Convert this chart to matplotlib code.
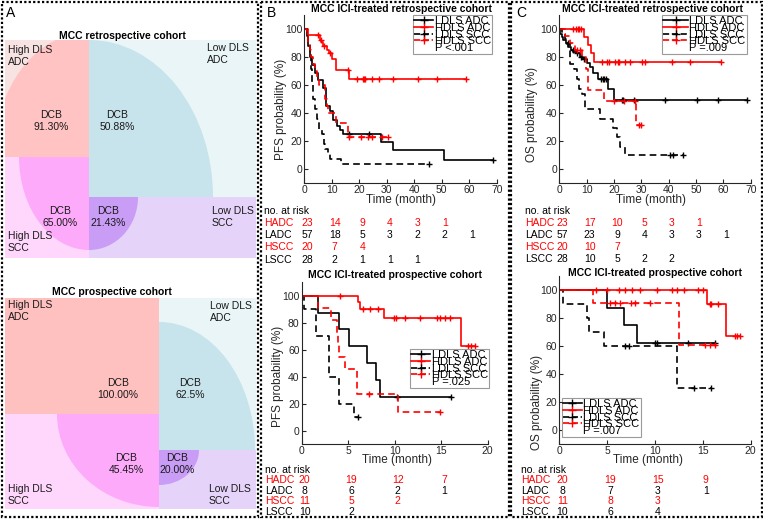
import numpy as np
import matplotlib.pyplot as plt
from matplotlib.patches import Rectangle, Ellipse
from matplotlib.lines import Line2D
from matplotlib import transforms

plt.rcParams['font.family'] = ['Liberation Sans', 'DejaVu Sans']

W, H = 763, 519
RED = '#ff0000'
BLK = '#000000'
GRAY = '#262626'

# ---------------- panel A data ----------------
quad_names = ['High DLS\nADC', 'Low DLS\nADC', 'High DLS\nSCC', 'Low DLS\nSCC']
dcb_retro = ['91.30%', '50.88%', '65.00%', '21.43%']
dcb_prosp = ['100.00%', '62.5%', '45.45%', '20.00%']

# ---------------- KM data (time in months, survival in %) ----------------
curve_names = ['LDLS ADC', 'HDLS ADC', 'LDLS SCC', 'HDLS SCC']

# B top: PFS, retrospective
pfs_r_ladc_t = [0.9, 1.5, 2.1, 2.7, 3.9, 5.1, 6.9, 7.9, 9.3, 10.5, 11.8, 13.0, 14.2, 27.9, 32.1, 50.8]
pfs_r_ladc_s = [95, 87.6, 80, 74.5, 68.5, 63.7, 57.5, 44.6, 41, 35, 30.3, 27.4, 25.1, 18.9, 13.1, 6.4]
pfs_r_ladc_c = [16.4, 23.6, 68.7]
pfs_r_hadc_t = [1.5, 5.6, 6.2, 6.8, 8.2, 8.9, 9.9, 11.5, 16.4]
pfs_r_hadc_s = [95.7, 92.5, 90.5, 88.0, 85.0, 82.6, 78.3, 71.0, 64.4]
pfs_r_hadc_c = [5.0, 6.0, 7.0, 9.3, 16.0, 19.3, 21.2, 21.7, 22.2, 24.8, 27.2, 32.1, 41.5, 48.4, 59.0]
pfs_r_lscc_t = [1.0, 1.5, 2.0, 2.4, 2.8, 3.2, 3.8, 4.5, 5.5, 6.5, 7.0, 7.5, 8.5, 9.5, 13.5]
pfs_r_lscc_s = [96.4, 89.3, 82.1, 71.4, 60.7, 50.0, 42.9, 35.7, 28.6, 25.0, 17.9, 14.3, 10.7, 7.1, 3.6]
pfs_r_lscc_c = [45.3]
pfs_r_hscc_t = [1.0, 1.5, 2.0, 2.5, 3.0, 3.8, 4.5, 5.5, 7.7, 8.2, 8.8, 11.5, 16.0]
pfs_r_hscc_s = [95, 90, 85, 80, 75, 70, 65, 60, 50, 45, 40, 33, 23]
pfs_r_hscc_c = [16.4, 20.8, 23.3, 24.5, 28.1, 30.5]

# B bottom: PFS, prospective
pfs_p_ladc_t = [1.8, 4.0, 5.05, 7.06, 7.96, 8.4]
pfs_p_ladc_s = [87.5, 75, 62.5, 50, 37.5, 25]
pfs_p_ladc_c = [10.25, 16.0]
pfs_p_hadc_t = [6.0, 6.3, 8.9, 17.1]
pfs_p_hadc_s = [95, 90, 83.5, 63.0]
pfs_p_hadc_c = [4.1, 6.6, 7.3, 8.2, 9.9, 10.1, 11.1, 12.7, 14.5, 14.9, 15.4, 15.9, 17.9, 18.2, 18.6]
pfs_p_lscc_t = [0.3, 1.5, 2.9, 4.05, 5.6]
pfs_p_lscc_s = [90, 70, 40, 20, 10]
pfs_p_lscc_c = [6.0]
pfs_p_hscc_t = [1.8, 3.1, 3.8, 3.9, 4.0, 4.7, 5.9, 10.4]
pfs_p_hscc_s = [90.9, 81.8, 72.7, 63.6, 54.5, 45.5, 27.3, 13.6]
pfs_p_hscc_c = [7.2, 14.9]

# C top: OS, retrospective
os_r_ladc_t = [0.25, 0.85, 1.5, 2.3, 3.3, 4.3, 5.1, 6.3, 7.6, 8.8, 10.0, 11.2, 12.4, 14.3, 17.9, 20.1]
os_r_ladc_s = [97, 94.8, 92.4, 90, 87.6, 85.2, 84, 82.9, 80.5, 78.6, 76.2, 73.3, 68.6, 64.3, 57.1, 49.5]
os_r_ladc_c = [3.0, 5.0, 6.5, 8.0, 9.0, 15.3, 15.9, 16.5, 17.1, 22.8, 23.4, 27.3, 38.7, 50.2, 58.2, 68.5]
os_r_hadc_t = [9.1, 10.6, 11.6, 12.8]
os_r_hadc_s = [94.4, 88.9, 83.3, 76.9]
os_r_hadc_c = [5.1, 6.0, 6.8, 7.3, 8.0, 15.5, 17.3, 18.3, 20.4, 21.3, 21.8, 24.0, 25.9,
               30.4, 31.3, 41.1, 47.8, 59.0]
os_r_lscc_t = [1.0, 2.0, 2.7, 3.9, 5.3, 6.3, 7.3, 8.3, 9.5, 14.9, 19.8, 21.0, 22.2, 24.0]
os_r_lscc_s = [96.4, 92.9, 89.3, 75.0, 71.4, 64.3, 57.1, 53.6, 42.9, 36.2, 29.3, 23.3, 16.2, 10.2]
os_r_lscc_c = [40.5, 41.7, 45.4]
os_r_hscc_t = [2.1, 3.9, 5.7, 8.2, 9.8, 10.5, 16.2, 28.0]
os_r_hscc_s = [95, 90, 85, 80, 72, 56.7, 49.0, 31.7]
os_r_hscc_c = [6.5, 7.5, 20.1, 23.8, 27.7, 29.0, 29.9]

# C bottom: OS, prospective
os_p_ladc_t = [5.0, 6.8, 8.1]
os_p_ladc_s = [87.5, 75, 62.5]
os_p_ladc_c = [10.0, 10.2, 13.4, 16.3]
os_p_hadc_t = [15.4, 17.4]
os_p_hadc_s = [90, 66.9]
os_p_hadc_c = [3.8, 5.0, 6.2, 6.9, 7.6, 8.4, 10.2, 11.8, 12.3, 13.0, 14.5, 15.0, 15.7, 15.9, 16.6,
               18.4, 18.6, 18.9]
os_p_lscc_t = [0.4, 2.9, 3.1, 4.7, 12.3]
os_p_lscc_s = [90, 80, 70, 60, 30]
os_p_lscc_c = [6.9, 7.3, 14.1, 15.9]
os_p_hscc_t = [3.55, 12.5]
os_p_hscc_s = [90.9, 60.6]
os_p_hscc_c = [5.3, 5.8, 6.3, 7.5, 7.9, 9.5, 15.2, 15.7, 16.3]

# numbers at risk
risk_rows = ['HADC', 'LADC', 'HSCC', 'LSCC']
risk_cols = [RED, BLK, RED, BLK]
pfs_r_risk = [[23, 14, 9, 4, 3, 1], [57, 18, 5, 3, 2, 2, 1], [20, 7, 4], [28, 2, 1, 1, 1]]
pfs_p_risk = [[20, 19, 12, 7], [8, 6, 2, 1], [11, 5, 2], [10, 2]]
os_r_risk = [[23, 17, 10, 5, 3, 1], [57, 23, 9, 4, 3, 3, 1], [20, 10, 7], [28, 10, 5, 2, 2]]
os_p_risk = [[20, 19, 15, 9], [8, 7, 3, 1], [11, 8, 3], [10, 6, 4]]

# ---------------- figure ----------------
fig = plt.figure(figsize=(W / 100, H / 100), dpi=100)
bg = fig.add_axes([0, 0, 1, 1])
bg.set_xlim(0, W)
bg.set_ylim(H, 0)
bg.axis('off')


def quadrant(rect, center, radii, bg_col, fg_col):
    x0, y0, x1, y1 = rect
    r = Rectangle((x0, y0), x1 - x0, y1 - y0, facecolor=bg_col, edgecolor='none')
    bg.add_patch(r)
    if radii is not None:
        e = Ellipse(center, 2 * radii[0], 2 * radii[1], facecolor=fg_col, edgecolor='none')
        bg.add_patch(e)
        e.set_clip_path(r)


txt = dict(fontsize=7.5, color='#1a1a1a', linespacing=1.15)

# retrospective quadrants
quadrant((5, 40, 89, 157), (89, 157), (95, 125), '#f7e3e1', '#ffc3c3')
quadrant((89, 40, 256, 197), (89, 197), (124, 157), '#eaf5f8', '#c7e3eb')
quadrant((5, 157, 89, 258), (89, 157), (70, 93), '#ffd7fc', '#fdaafb')
quadrant((89, 197, 256, 258), (89, 197), (49, 53), '#e5d3f9', '#c99cf5')
bg.text(122, 36, 'MCC retrospective cohort', fontsize=7.5, fontweight='bold', ha='center', va='center')
for name, (x, y) in zip(quad_names, [(8, 56), (207, 54), (8, 242), (212, 217)]):
    bg.text(x, y, name, ha='left', va='center', **txt)
for val, (x, y) in zip(dcb_retro, [(51, 121), (117, 121), (60, 217), (108, 217)]):
    bg.text(x, y, 'DCB\n' + val, ha='center', va='center', **txt)

# prospective quadrants
quadrant((5, 298, 159, 414), None, None, '#ffc0c0', None)
quadrant((159, 298, 256, 450), (159, 450), (96, 128), '#eaf5f8', '#c7e3eb')
quadrant((5, 414, 159, 509), (159, 414), (102, 93), '#ffd7fc', '#fdaafb')
quadrant((159, 450, 256, 509), (159, 450), (40, 35), '#e5d3f9', '#c99cf5')
bg.text(112, 292, 'MCC prospective cohort', fontsize=7.5, fontweight='bold', ha='center', va='center')
for name, (x, y) in zip(quad_names, [(8, 311), (210, 312), (8, 495), (209, 495)]):
    bg.text(x, y, name, ha='left', va='center', **txt)
for val, (x, y) in zip(dcb_prosp, [(118, 389), (190, 389), (126, 464), (177, 464)]):
    bg.text(x, y, 'DCB\n' + val, ha='center', va='center', **txt)

# dotted panel borders
for x0, x1 in [(2, 257.5), (260.5, 508.5), (511, 761.5)]:
    bg.add_patch(Rectangle((x0, 2), x1 - x0, 515, fill=False, ls=(0, (1, 1)), lw=1.6,
                           ec='k', zorder=10))
for letter, x, y in [('A', 11, 13), ('B', 271, 13), ('C', 521, 13)]:
    bg.text(x, y, letter, fontsize=10, ha='center', va='center')


def km_axes(x0, x1, ytop, ybot, xmax, xstep):
    ax = fig.add_axes([x0 / W, 1 - ybot / H, (x1 - x0) / W, (ybot - ytop) / H])
    ax.patch.set_alpha(0)
    ax.set_xlim(0, xmax)
    ax.set_ylim(-10, 110)
    ax.set_xticks(np.arange(0, xmax + 1, xstep))
    ax.set_yticks(np.arange(0, 101, 20))
    for sp in ['top', 'right']:
        ax.spines[sp].set_visible(False)
    for sp in ['left', 'bottom']:
        ax.spines[sp].set_color(GRAY)
        ax.spines[sp].set_linewidth(0.8)
    ax.tick_params(direction='in', length=3, width=0.8, colors=GRAY, labelsize=7.5, pad=1.5)
    return ax


def km_curve(ax, t, s, cens, color, ls):
    t_end = max(cens[-1], t[-1])
    x = np.r_[0, t, t_end]
    y = np.r_[100, s, s[-1]]
    ax.step(x, y, where='post', color=color, ls=ls, lw=1.2, dashes=(4, 2.5) if ls == '--' else (None, None))
    vals = np.r_[100, s]
    yc = vals[np.searchsorted(t, cens, side='right')]
    ax.plot(cens, yc, ls='none', marker='+', color=color, ms=5, mew=1.0)


def km_panel(ax, curves):
    for (t, s, c), col, ls in zip(curves, [BLK, RED, BLK, RED], ['-', '-', '--', '--']):
        km_curve(ax, t, s, c, col, ls)


def add_legend(ax, pval, corner, hl):
    handles = [Line2D([], [], color=col, ls=ls, lw=1.2, marker='+', ms=6, mew=1.0)
               for col, ls in zip([BLK, RED, BLK, RED], ['-', '-', '--', '--'])]
    handles.append(Line2D([], [], ls='none'))
    leg = ax.legend(handles, curve_names + [pval], loc='upper left',
                    bbox_to_anchor=(corner[0] / W, 1 - corner[1] / H), bbox_transform=fig.transFigure,
                    fontsize=8, labelspacing=-0.3, handlelength=hl, handletextpad=0.15,
                    borderpad=0.12, borderaxespad=0, fancybox=False, edgecolor='#9a9a9a',
                    framealpha=1, numpoints=1)
    leg.get_frame().set_linewidth(0.8)


def labels(ax, ylabel, title, tpos, ycoord, xcoord):
    ax.set_ylabel(ylabel, fontsize=8.5, color=GRAY)
    ax.yaxis.label.set_verticalalignment('center')
    ax.yaxis.set_label_coords(*ycoord)
    ax.set_xlabel('Time (month)', fontsize=8.5, color=GRAY)
    ax.xaxis.label.set_verticalalignment('center')
    ax.xaxis.set_label_coords(*xcoord)
    bg.text(tpos[0], tpos[1], title, fontsize=7.5, fontweight='bold', ha='center', va='center')


def risk_table(ax, counts, step, label_x, ys):
    tr = transforms.blended_transform_factory(ax.transData, bg.transData)
    tr = transforms.offset_copy(tr, fig=fig, x=3, y=0, units='dots')
    bg.text(label_x, ys[0], 'no. at risk', fontsize=7.5, ha='left', va='center')
    for name, nums, col, y in zip(risk_rows, counts, risk_cols, ys[1:]):
        bg.text(label_x, y, name, fontsize=7.5, color=col, ha='left', va='center')
        for i, n in enumerate(nums):
            fig.text(i * step, y, str(n), transform=tr, fontsize=7.5, color=col,
                     ha='center', va='center')


# B top
ax1 = km_axes(304.3, 496.7, 15.1, 182.7, 70, 10)
km_panel(ax1, [(pfs_r_ladc_t, pfs_r_ladc_s, pfs_r_ladc_c), (pfs_r_hadc_t, pfs_r_hadc_s, pfs_r_hadc_c),
               (pfs_r_lscc_t, pfs_r_lscc_s, pfs_r_lscc_c), (pfs_r_hscc_t, pfs_r_hscc_s, pfs_r_hscc_c)])
add_legend(ax1, 'P <.001', (413, 15), 1.7)
labels(ax1, 'PFS probability (%)', 'MCC ICI-treated retrospective cohort', (401.5, 8.5),
       (-0.121, 0.44), (0.5, -0.103))
risk_table(ax1, pfs_r_risk, 10, 264, [211.5, 223, 235, 247.5, 260])

# B bottom
ax2 = km_axes(301.7, 487.7, 282.2, 444.2, 20, 5)
km_panel(ax2, [(pfs_p_ladc_t, pfs_p_ladc_s, pfs_p_ladc_c), (pfs_p_hadc_t, pfs_p_hadc_s, pfs_p_hadc_c),
               (pfs_p_lscc_t, pfs_p_lscc_s, pfs_p_lscc_c), (pfs_p_hscc_t, pfs_p_hscc_s, pfs_p_hscc_c)])
add_legend(ax2, 'P =.025', (410, 349), 1.7)
labels(ax2, 'PFS probability (%)', 'MCC ICI-treated prospective cohort', (394.5, 275),
       (-0.127, 0.42), (0.515, -0.098))
risk_table(ax2, pfs_p_risk, 5, 265, [470, 480, 490.5, 501.5, 512])

# C top
ax3 = km_axes(559.3, 750.7, 15.3, 183.3, 70, 10)
km_panel(ax3, [(os_r_ladc_t, os_r_ladc_s, os_r_ladc_c), (os_r_hadc_t, os_r_hadc_s, os_r_hadc_c),
               (os_r_lscc_t, os_r_lscc_s, os_r_lscc_c), (os_r_hscc_t, os_r_hscc_s, os_r_hscc_c)])
add_legend(ax3, 'P =.009', (662, 15), 2.2)
labels(ax3, 'OS probability (%)', 'MCC ICI-treated retrospective cohort', (652, 8.5),
       (-0.141, 0.41), (0.478, -0.1))
risk_table(ax3, os_r_risk, 10, 525, [211.5, 222.7, 235.3, 247, 259.3])

# C bottom
ax4 = km_axes(559.3, 750.7, 276, 444, 20, 5)
km_panel(ax4, [(os_p_ladc_t, os_p_ladc_s, os_p_ladc_c), (os_p_hadc_t, os_p_hadc_s, os_p_hadc_c),
               (os_p_lscc_t, os_p_lscc_s, os_p_lscc_c), (os_p_hscc_t, os_p_hscc_s, os_p_hscc_c)])
add_legend(ax4, 'P =.007', (561.5, 398), 1.7)
labels(ax4, 'OS probability (%)', 'MCC ICI-treated prospective cohort', (655, 273),
       (-0.118, 0.25), (0.461, -0.095))
risk_table(ax4, os_p_risk, 5, 521, [470, 480, 490.7, 501, 511.7])

fig.savefig('out.png', dpi=100)
